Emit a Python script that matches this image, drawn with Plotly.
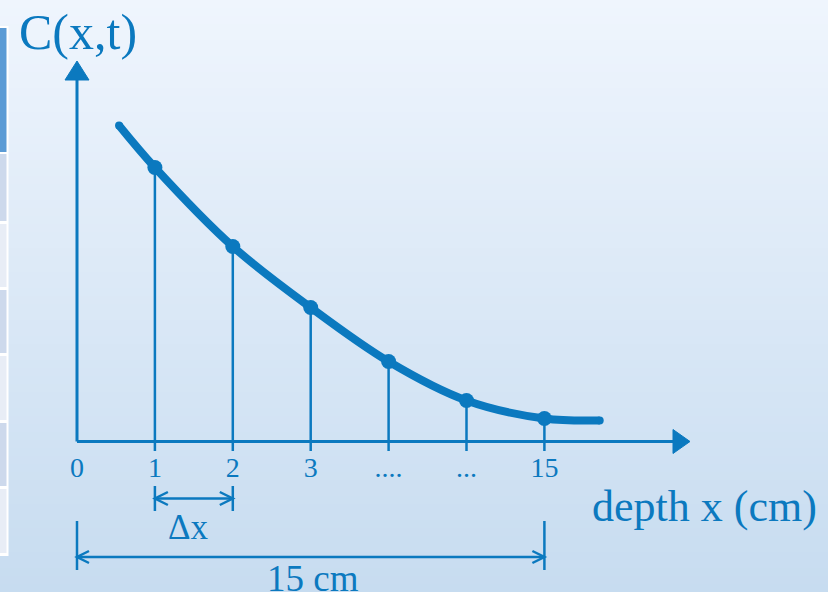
import plotly.graph_objects as go

# ---------------- data ----------------
tick_positions = [0, 1, 2, 3, 4, 5, 6]
tick_labels = ["0", "1", "2", "3", "....", "...", "15"]

sample_x = [1, 2, 3, 4, 5, 6]
sample_c = [2.74, 1.95, 1.34, 0.80, 0.41, 0.23]

curve_x = [0.54, 1, 2, 3, 4, 5, 6, 6.71]
curve_c = [3.16, 2.74, 1.95, 1.34, 0.80, 0.41, 0.23, 0.21]

y_title = "C(x,t)"
x_title = "depth x (cm)"
dx_label = "Δx"
span_label = "15 cm"

# ---------------- style ----------------
W, H = 828, 592
BLUE = "#0b79bf"
FONT = "Liberation Serif, Times New Roman, serif"
X0_PX, DX_PX = 77.0, 77.9       # pixel of x=0 and pixels per step
Y0_PX, DY_PX = 441.5, 100.0     # pixel of C=0 and pixels per unit

xr = [-X0_PX / DX_PX, (W - X0_PX) / DX_PX]
yr = [(Y0_PX - H) / DY_PX, Y0_PX / DY_PX]


def px2x(p):
    return (p - X0_PX) / DX_PX


def px2y(p):
    return (Y0_PX - p) / DY_PX


shapes = []

# background gradient
top = (239, 245, 253)
bot = (199, 220, 240)
n = 74
for i in range(n):
    t = i / (n - 1)
    c = tuple(round(top[k] + (bot[k] - top[k]) * t) for k in range(3))
    shapes.append(dict(type="rect", xref="paper", yref="paper",
                       x0=0, x1=1, y0=1 - (i + 1) / n - 0.002, y1=1 - i / n,
                       fillcolor="rgb(%d,%d,%d)" % c, line=dict(width=0), layer="below"))


def prect(x0, y0, x1, y1, color):
    shapes.append(dict(type="rect", xref="paper", yref="paper",
                       x0=x0 / W, x1=x1 / W, y0=1 - y1 / H, y1=1 - y0 / H,
                       fillcolor=color, line=dict(width=0), layer="below"))


# left table fragment
prect(0, 26, 8.5, 556, "#ffffff")
prect(0, 28, 6.5, 152, "#5b9bd5")
cells = [(154, 221, "#cdd9ec"), (224, 287, "#e8edf6"), (290, 353, "#cdd9ec"),
         (356, 420, "#e8edf6"), (423, 486, "#cdd9ec"), (489, 553, "#e8edf6")]
for a, b, col in cells:
    prect(0, a, 6.5, b, col)


def dline(x0, y0, x1, y1, w=2.5):
    shapes.append(dict(type="line", xref="x", yref="y", x0=x0, y0=y0, x1=x1, y1=y1,
                       line=dict(color=BLUE, width=w)))


# axes
y_arrow_base = px2y(80)
x_arrow_base = px2x(673)
dline(0, 0, 0, y_arrow_base, 3)
dline(0, 0, x_arrow_base, 0, 3)
# arrowheads
hx = 12 / DX_PX
shapes.append(dict(type="path", xref="x", yref="y",
                   path="M %f %f L %f %f L %f %f Z" % (-hx, y_arrow_base, 0, px2y(61), hx, y_arrow_base),
                   fillcolor=BLUE, line=dict(color=BLUE, width=1)))
hy = 12 / DY_PX
shapes.append(dict(type="path", xref="x", yref="y",
                   path="M %f %f L %f %f L %f %f Z" % (x_arrow_base, hy, px2x(690), 0, x_arrow_base, -hy),
                   fillcolor=BLUE, line=dict(color=BLUE, width=1)))

# tick marks on x axis (not at 0)
tick_bottom = px2y(451)


def dim(xa, xb, ytop, ybot, ymid, arm_w, arm_h):
    dline(xa, ytop, xa, ybot)
    dline(xb, ytop, xb, ybot)
    dline(xa, ymid, xb, ymid)
    ax = arm_w / DX_PX
    ay = arm_h / DY_PX
    shapes.append(dict(type="path", xref="x", yref="y",
                       path="M %f %f L %f %f L %f %f" % (xa + ax, ymid + ay, xa, ymid, xa + ax, ymid - ay),
                       line=dict(color=BLUE, width=2.5)))
    shapes.append(dict(type="path", xref="x", yref="y",
                       path="M %f %f L %f %f L %f %f" % (xb - ax, ymid + ay, xb, ymid, xb - ax, ymid - ay),
                       line=dict(color=BLUE, width=2.5)))


dim(sample_x[0], sample_x[1], px2y(486), px2y(511), px2y(498.5), 13, 6.5)
dim(tick_positions[0], tick_positions[-1], px2y(521), px2y(570), px2y(557), 12, 6)

fig = go.Figure()

# drop lines from each sample down through the axis (ticks)
tx, ty = [], []
for xv in tick_positions[1:]:
    cv = sample_c[sample_x.index(xv)] if xv in sample_x else 0
    tx += [xv, xv, None]
    ty += [tick_bottom, cv, None]
fig.add_trace(go.Scatter(x=tx, y=ty, mode="lines", line=dict(color=BLUE, width=2.5),
                         hoverinfo="skip", showlegend=False))

# concentration profile curve
fig.add_trace(go.Scatter(x=curve_x, y=curve_c, mode="lines",
                         line=dict(color=BLUE, width=8, shape="spline"),
                         showlegend=False))
# rounded ends
fig.add_trace(go.Scatter(x=[curve_x[0], curve_x[-1]], y=[curve_c[0], curve_c[-1]], mode="markers",
                         marker=dict(color=BLUE, size=8), hoverinfo="skip", showlegend=False))
# sample points
fig.add_trace(go.Scatter(x=sample_x, y=sample_c, mode="markers",
                         marker=dict(color=BLUE, size=15), showlegend=False))

# tick labels
fig.add_trace(go.Scatter(x=tick_positions, y=[px2y(470)] * len(tick_positions), mode="text",
                         text=tick_labels, textposition="middle center",
                         textfont=dict(family=FONT, size=28, color=BLUE),
                         hoverinfo="skip", showlegend=False))

annotations = [
    dict(x=px2x(78), y=px2y(32), text=y_title, font=dict(size=50)),
    dict(x=px2x(704), y=px2y(506), text=x_title, font=dict(size=44)),
    dict(x=px2x(188), y=px2y(527), text=dx_label, font=dict(size=35)),
    dict(x=px2x(313), y=px2y(578), text=span_label, font=dict(size=37)),
]
for a in annotations:
    a.update(xref="x", yref="y", showarrow=False, xanchor="center", yanchor="middle")
    a["font"].update(family=FONT, color=BLUE)

fig.update_layout(
    width=W, height=H,
    margin=dict(l=0, r=0, t=0, b=0),
    paper_bgcolor="#e3ecf7", plot_bgcolor="rgba(0,0,0,0)",
    xaxis=dict(range=xr, visible=False, fixedrange=True),
    yaxis=dict(range=yr, visible=False, fixedrange=True),
    shapes=shapes, annotations=annotations,
    showlegend=False,
)

fig.write_html(
    "out.html",
    config={"displayModeBar": False},
    post_script="document.body.style.margin='0';document.documentElement.style.overflow='hidden';",
)
